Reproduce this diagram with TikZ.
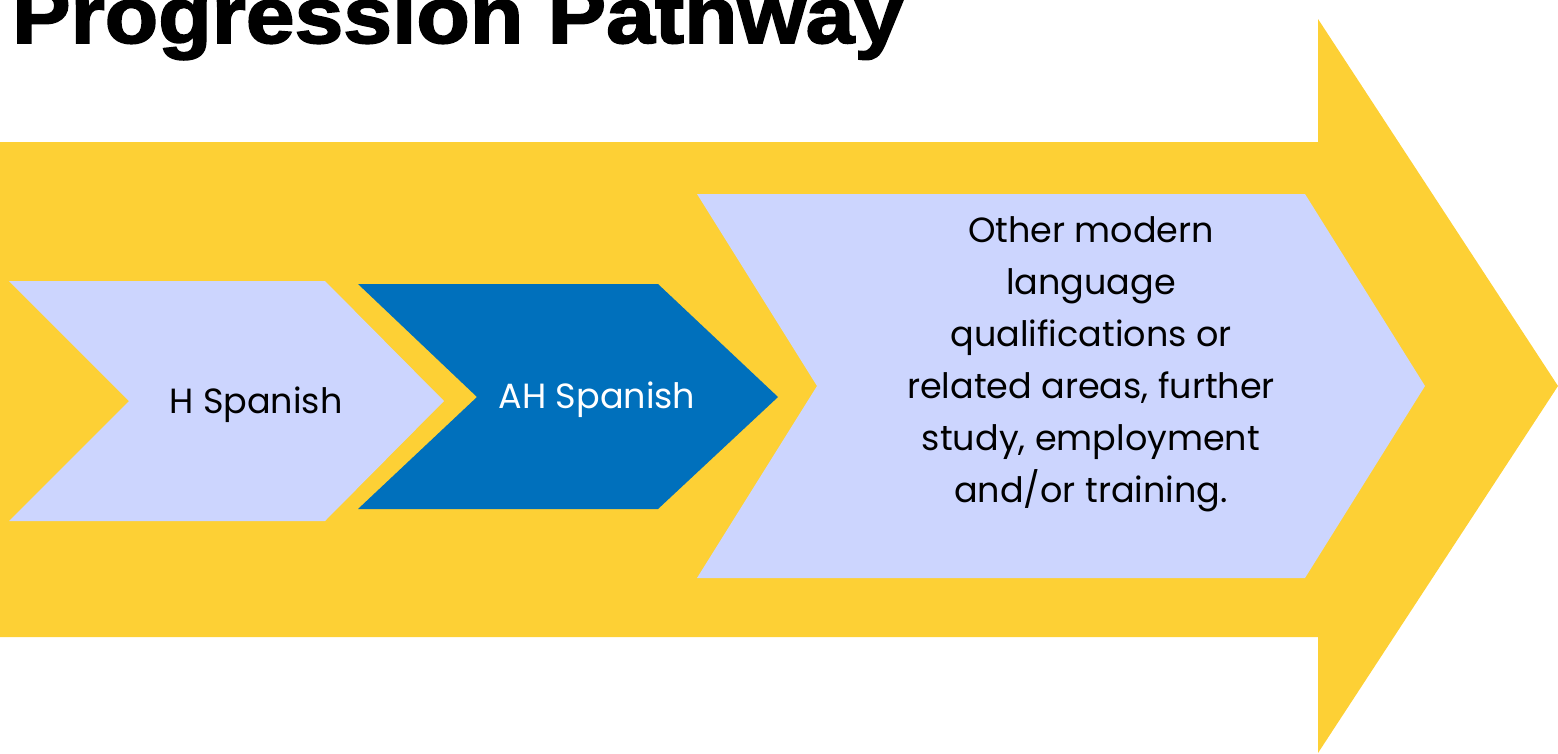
\documentclass[tikz,border=0pt]{standalone}
\usepackage{fontspec}
\setmainfont{Poppins}
\newfontfamily\titlefont[BoldFeatures={FakeBold=2}]{Liberation Sans}
\definecolor{arrowyellow}{HTML}{FDD035}
\definecolor{lavender}{HTML}{CCD5FE}
\definecolor{deepblue}{HTML}{0070BC}
\begin{document}
\begin{tikzpicture}[x=1pt,y=-1pt,
  chevlight/.style={fill=lavender,draw=none},
  chevdark/.style={fill=deepblue,draw=none},
  bodytext/.style={font=\fontsize{35}{52}\selectfont,inner sep=0pt,align=center},
]
\useasboundingbox (0,0) rectangle (1558,753);
% big yellow arrow
\fill[arrowyellow] (0,142) -- (1318,142) -- (1318,19) -- (1558,386) -- (1318,753) -- (1318,637) -- (0,637) -- cycle;
% chevrons
\fill[chevlight] (9,281) -- (325,281) -- (444,401) -- (325,521) -- (9,521) -- (129,401) -- cycle;
\fill[chevdark] (358,284) -- (658,284) -- (778,397) -- (658,509) -- (358,509) -- (477,397) -- cycle;
\fill[chevlight] (697,194) -- (1305,194) -- (1425,386) -- (1305,578) -- (697,578) -- (817,386) -- cycle;
% texts
\node[bodytext,anchor=base] (h) at (256,413) {H Spanish};
\node[bodytext,anchor=base,text=white] (ah) at (597,408) {AH Spanish};
\node[bodytext] (other) at (1091,364) {Other modern\\language\\qualifications or\\related areas, further\\study, employment\\and/or training.};
% title
\node[anchor=base west,inner sep=0pt] (title) at (12,43) {\resizebox{891pt}{58pt}{\titlefont\bfseries\fontsize{76}{76}\selectfont Progression Pathway}};
\end{tikzpicture}
\end{document}
